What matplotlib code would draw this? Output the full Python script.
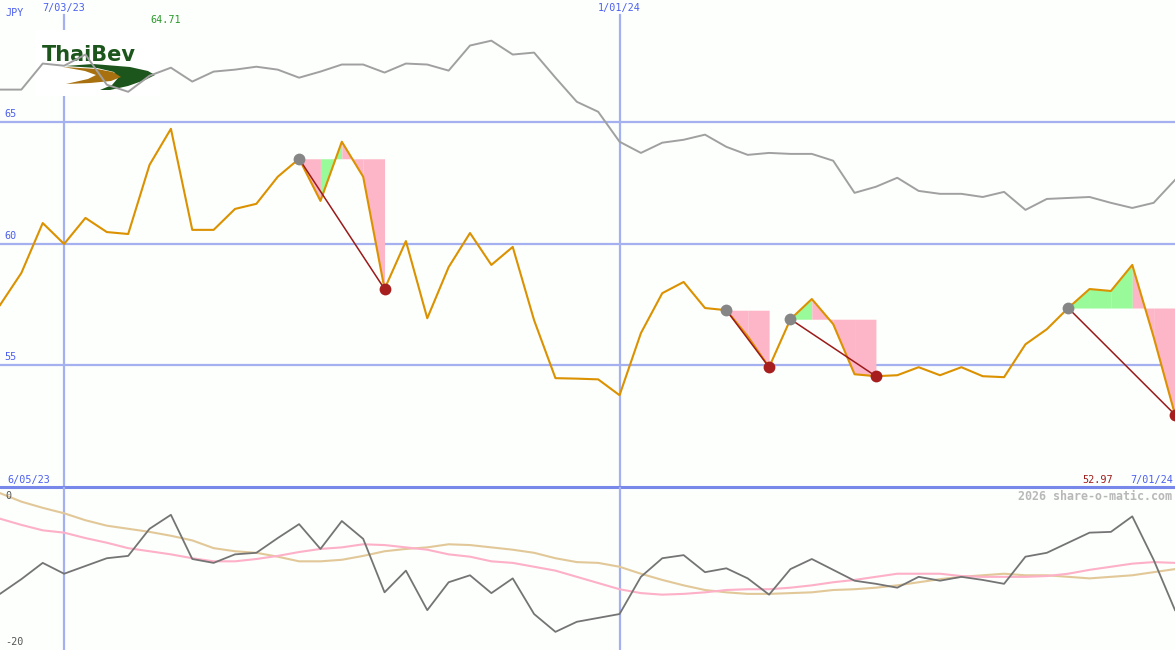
import matplotlib
matplotlib.use("Agg")
import matplotlib.pyplot as plt
from matplotlib.patches import Polygon, Rectangle
from matplotlib.transforms import blended_transform_factory

W, H = 1175, 650

# weekly closes, JPY
price = [57.47, 58.79, 60.84, 59.98, 61.05, 60.47, 60.39, 63.23, 64.71, 60.56,
         60.56, 61.42, 61.63, 62.74, 63.48, 61.75, 64.18, 62.74, 58.13, 60.10,
         56.93, 59.03, 60.43, 59.12, 59.86, 56.85, 54.47, 54.45, 54.42, 53.77,
         56.32, 57.96, 58.42, 57.35, 57.26, 56.19, 54.92, 56.89, 57.72, 56.69,
         54.63, 54.55, 54.59, 54.92, 54.59, 54.92, 54.55, 54.51, 55.86, 56.48,
         57.35, 58.13, 58.05, 59.12, 56.16, 52.97]

# comparison index (rescaled onto price axis)
index_line = [66.32, 66.32, 67.39, 67.30, 67.76, 66.52, 66.23, 66.89, 67.22, 66.65,
              67.06, 67.14, 67.26, 67.14, 66.81, 67.06, 67.35, 67.35, 67.02, 67.39,
              67.35, 67.10, 68.13, 68.33, 67.76, 67.84, 66.81, 65.82, 65.41, 64.18,
              63.72, 64.14, 64.26, 64.47, 63.97, 63.64, 63.72, 63.68, 63.68, 63.40,
              62.08, 62.33, 62.70, 62.16, 62.04, 62.04, 61.91, 62.12, 61.38, 61.83,
              61.87, 61.91, 61.67, 61.46, 61.67, 62.61]

# lower panel oscillator and its two averages
osc = [-13.4, -11.5, -9.4, -10.8, -9.8, -8.8, -8.5, -5.0, -3.2, -8.9,
       -9.4, -8.3, -8.1, -6.2, -4.4, -7.6, -4.0, -6.3, -13.2, -10.4,
       -15.5, -11.9, -11.0, -13.3, -11.4, -16.0, -18.3, -17.0, -16.5, -16.0,
       -11.2, -8.8, -8.4, -10.6, -10.1, -11.4, -13.5, -10.2, -8.9, -10.3,
       -11.7, -12.1, -12.6, -11.2, -11.7, -11.2, -11.6, -12.1, -8.6, -8.1,
       -6.8, -5.5, -5.4, -3.4, -9.0, -15.5]
avg_pink = [-3.7, -4.5, -5.2, -5.5, -6.2, -6.8, -7.5, -7.9, -8.3, -8.8,
            -9.2, -9.2, -8.9, -8.5, -8.0, -7.6, -7.4, -7.0, -7.1, -7.4,
            -7.7, -8.3, -8.6, -9.2, -9.4, -9.9, -10.4, -11.2, -12.0, -12.8,
            -13.3, -13.5, -13.4, -13.2, -12.9, -12.8, -12.8, -12.6, -12.3, -11.9,
            -11.6, -11.2, -10.8, -10.8, -10.8, -11.1, -11.2, -11.2, -11.2, -11.1,
            -10.8, -10.3, -9.9, -9.5, -9.3, -9.4]
avg_tan = [-0.4, -1.5, -2.3, -3.0, -3.9, -4.6, -5.0, -5.4, -5.9, -6.5,
           -7.5, -7.9, -8.1, -8.6, -9.2, -9.2, -9.0, -8.5, -7.9, -7.6,
           -7.4, -7.0, -7.1, -7.4, -7.7, -8.1, -8.8, -9.3, -9.4, -9.9,
           -10.8, -11.6, -12.3, -12.9, -13.2, -13.4, -13.4, -13.3, -13.2, -12.9,
           -12.8, -12.6, -12.3, -11.9, -11.5, -11.2, -11.0, -10.8, -11.0, -11.0,
           -11.2, -11.4, -11.2, -11.0, -10.6, -10.2]

# trade signals (week index)
entries = [14, 34, 37, 50]
exits = [18, 36, 41, 55]

price_ticks = [55, 60, 65]
date_marks = ["7/03/23", "1/01/24"]
date_idx = [3, 29]
start_label = "6/05/23"
end_label = "7/01/24"

bg = "#fcfffc"
grid_c = "#a4b0f0"
label_c = "#4d5ff0"
mono = "DejaVu Sans Mono"

x = list(range(len(price)))

fig = plt.figure(figsize=(W / 100, H / 100), dpi=100, facecolor=bg)
ax = fig.add_axes([0, 163 / H, 1, 487 / H])
ax2 = fig.add_axes([0, 0, 1, 163 / H])
for a in (ax, ax2):
    a.set_facecolor(bg)
    a.set_xlim(0, len(price) - 1)
    a.axis("off")
ax.set_ylim(50, 70)
ax2.set_ylim(-20.64, 0.39)

# grid
ytrans = blended_transform_factory(ax.transAxes, ax.transData)
for t in price_ticks:
    ax.axhline(t, color=grid_c, lw=1.6, zorder=1)
    ax.text(0.004, t + 0.12, str(t), transform=ytrans, color=label_c,
            fontsize=7.3, family=mono, va="bottom", ha="left")
ax.axhline(50, color="#7888ea", lw=2.2, zorder=5, clip_on=False)
for i in date_idx:
    ax.axvline(i, ymax=0.969, color=grid_c, lw=1.6, zorder=1)
    ax2.axvline(i, color=grid_c, lw=1.6, zorder=1)

# logo (white box hides the grid, lines are drawn over it)
def pxpoly(pts):
    return [(px / W, 1 - py / H) for px, py in pts]

ax.add_patch(Rectangle((35 / W, 1 - 96 / H), 125 / W, 66 / H, transform=fig.transFigure,
                       facecolor="white", edgecolor="none", zorder=1.5))
green_sw = [(65, 66), (93, 64), (130, 67), (148, 71), (155, 75), (145, 80), (128, 86),
            (110, 90), (100, 90), (112, 85), (118, 78), (114, 72), (97, 68)]
brown_sw = [(63, 67), (97, 69), (113, 72), (121, 77), (111, 81), (90, 83), (66, 84),
            (88, 79), (96, 75), (85, 71)]
ax.add_patch(Polygon(pxpoly(green_sw), closed=True, transform=fig.transFigure,
                     facecolor="#1c561c", edgecolor="none", zorder=1.6))
ax.add_patch(Polygon(pxpoly(brown_sw), closed=True, transform=fig.transFigure,
                     facecolor="#a8700e", edgecolor="none", zorder=1.7))
ax.text(42 / W, 1 - 61 / H, "ThaiBev", transform=fig.transFigure, color="#1c561c",
        fontsize=15, fontweight="bold", family="DejaVu Sans", va="baseline", ha="left",
        zorder=1.8)

# comparison index and price
ax.plot(x, index_line, color="#a0a0a0", lw=1.4, zorder=3)

for e, s in zip(entries, exits):
    lvl = price[e]
    for i in range(e, s):
        c = "#98fa98" if price[i + 1] >= lvl else "#fdb6c8"
        ax.fill_between([i, i + 1], lvl, [price[i], price[i + 1]], color=c, lw=0, zorder=2)

ax.plot(x, price, color="#db9100", lw=1.5, zorder=4)
for e, s in zip(entries, exits):
    ax.plot([e, s], [price[e], price[s]], color="#9c1a1a", lw=1.1, zorder=5)
    ax.plot(e, price[e], "o", color="#868686", ms=8.5, mec="none", zorder=6)
    ax.plot(s, price[s], "o", color="#a61e1e", ms=8.5, mec="none", zorder=6)

# lower panel
ax2.plot(x, avg_tan, color="#e2c898", lw=1.5, zorder=2)
ax2.plot(x, avg_pink, color="#fdb0c8", lw=1.5, zorder=2)
ax2.plot(x, osc, color="#747474", lw=1.3, zorder=3)

# labels
def ftext(px, py, s, **kw):
    kw.setdefault("family", mono)
    kw.setdefault("fontsize", 7.3)
    fig.text(px / W, 1 - py / H, s, va="center", **kw)

ftext(5, 13, "JPY", color=label_c)
for lab, i in zip(date_marks, date_idx):
    xf = ax.transData.transform((i, 60))[0]
    fig.text(xf / W, 1 - 8 / H, lab, color=label_c, fontsize=7.3, family=mono,
             ha="center", va="center")
ftext(150, 20, "%.2f" % max(price), color="#2a9a2a")
ftext(7, 480, start_label, color=label_c)
ftext(1113, 480, "%.2f" % price[-1], color="#a01c1c", ha="right")
ftext(1173, 480, end_label, color=label_c, ha="right")
ftext(1172, 496, "2026 share-o-matic.com", color="#b8b8b8", ha="right", fontsize=8.4,
      fontweight="bold")
ftext(5, 496, "0", color="#555555")
ftext(5, 642, "-20", color="#555555")

fig.savefig("out.png", dpi=100, facecolor=bg)
